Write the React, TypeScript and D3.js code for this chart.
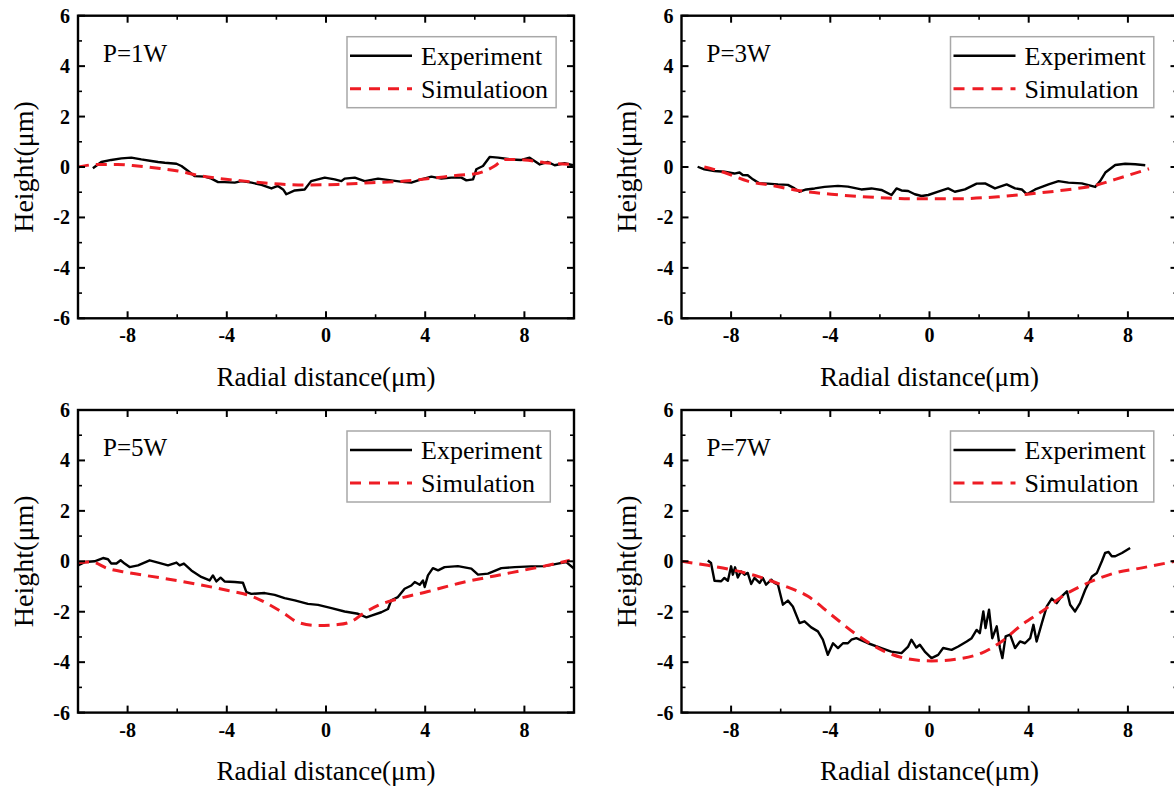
import React, { useEffect } from "react";
import * as d3 from "d3";

type Pt = [number, number];

// ---------- data ----------
const panelTitles = ["P=1W", "P=3W", "P=5W", "P=7W"];
const expLabels = ["Experiment", "Experiment", "Experiment", "Experiment"];
const simLabels = ["Simulatioon", "Simulation", "Simulation", "Simulation"];
const xTickValues = [-8, -4, 0, 4, 8];
const yTickValues = [-6, -4, -2, 0, 2, 4, 6];
const xMinorValues = [-6, -2, 2, 6];
const yMinorValues = [-5, -3, -1, 1, 3, 5];
const xDomain: Pt = [-10, 10];
const yDomain: Pt = [-6, 6];
const xTitle = "Radial distance(μm)";
const yTitle = "Height(μm)";

const p1Experiment: Pt[] = [
  [-9.4, -0.05], [-9.06, 0.2], [-8.66, 0.28], [-8.25, 0.34], [-7.85, 0.37], [-7.45, 0.3],
  [-7.04, 0.24], [-6.77, 0.2], [-6.5, 0.17], [-6.03, 0.13], [-5.83, 0.04], [-5.56, -0.16],
  [-5.3, -0.36], [-4.89, -0.38], [-4.62, -0.46], [-4.35, -0.6], [-4.09, -0.6], [-3.68, -0.62],
  [-3.41, -0.56], [-3.0, -0.62], [-2.6, -0.71], [-2.2, -0.85], [-1.94, -0.75], [-1.73, -0.89],
  [-1.6, -1.08], [-1.26, -0.93], [-0.86, -0.89], [-0.6, -0.56], [-0.05, -0.42], [0.35, -0.49],
  [0.62, -0.56], [0.75, -0.46], [1.16, -0.42], [1.56, -0.56], [2.1, -0.46], [2.63, -0.53],
  [3.17, -0.6], [3.44, -0.62], [3.84, -0.49], [4.25, -0.38], [4.65, -0.46], [5.05, -0.42],
  [5.46, -0.42], [5.66, -0.53], [5.93, -0.49], [6.06, -0.09], [6.33, 0.04], [6.6, 0.4],
  [6.94, 0.37], [7.47, 0.3], [7.88, 0.28], [8.21, 0.37], [8.62, 0.1], [8.95, 0.2],
  [9.22, 0.07], [9.62, 0.15], [9.96, 0.07],
];
const p1Simulation: Pt[] = [
  [-10, 0], [-9.2, 0.1], [-8.4, 0.1], [-7.6, 0.04], [-6.77, -0.05], [-5.97, -0.16],
  [-5.16, -0.33], [-4.35, -0.45], [-3.28, -0.56], [-2.2, -0.66], [-0.86, -0.71], [0.48, -0.69],
  [1.83, -0.62], [3.17, -0.56], [4.25, -0.45], [5.32, -0.33], [6.13, -0.25], [6.8, 0.04],
  [7.2, 0.3], [8.0, 0.28], [8.82, 0.17], [10, 0.1],
];

const p3Experiment: Pt[] = [
  [-9.35, 0.01], [-9.08, -0.09], [-8.67, -0.16], [-8.27, -0.19], [-7.87, -0.26], [-7.66, -0.22],
  [-7.53, -0.32], [-7.33, -0.33], [-7.12, -0.49], [-6.86, -0.65], [-6.52, -0.66], [-6.11, -0.69],
  [-5.71, -0.71], [-5.44, -0.85], [-5.24, -0.98], [-4.97, -0.89], [-4.63, -0.85], [-4.23, -0.79],
  [-3.69, -0.75], [-3.29, -0.78], [-2.75, -0.89], [-2.34, -0.85], [-1.94, -0.91], [-1.53, -1.11],
  [-1.33, -0.85], [-1.13, -0.93], [-0.86, -0.95], [-0.59, -1.08], [-0.32, -1.15], [-0.05, -1.11],
  [0.35, -0.98], [0.75, -0.85], [1.02, -0.98], [1.43, -0.89], [1.9, -0.66], [2.24, -0.65],
  [2.64, -0.85], [3.11, -0.69], [3.45, -0.85], [3.72, -0.89], [3.92, -1.08], [4.26, -0.89],
  [4.8, -0.69], [5.2, -0.56], [5.6, -0.62], [6.14, -0.65], [6.68, -0.79], [6.88, -0.56],
  [7.09, -0.22], [7.49, 0.08], [7.89, 0.13], [8.3, 0.11], [8.7, 0.07],
];
const p3Simulation: Pt[] = [
  [-9.08, 0.0], [-8.27, -0.22], [-7.33, -0.56], [-6.38, -0.73], [-5.3, -0.93], [-3.96, -1.08],
  [-2.48, -1.19], [-0.59, -1.26], [1.02, -1.26], [2.77, -1.18], [4.12, -1.06], [5.47, -0.91],
  [6.68, -0.73], [7.49, -0.49], [8.85, -0.07],
];

const p5Experiment: Pt[] = [
  [-10, -0.16], [-9.73, -0.03], [-9.33, 0], [-8.99, 0.13], [-8.79, 0.08], [-8.66, -0.09],
  [-8.45, -0.09], [-8.28, 0.04], [-8.12, -0.09], [-7.92, -0.23], [-7.58, -0.16], [-7.11, 0.04],
  [-6.77, -0.05], [-6.37, -0.16], [-6.03, -0.05], [-5.9, -0.16], [-5.73, -0.09], [-5.43, -0.36],
  [-5.03, -0.62], [-4.69, -0.76], [-4.56, -0.56], [-4.42, -0.8], [-4.25, -0.65], [-4.09, -0.8],
  [-3.68, -0.82], [-3.35, -0.85], [-3.21, -1.22], [-3.01, -1.29], [-2.47, -1.26], [-2.07, -1.33],
  [-1.67, -1.46], [-1.26, -1.55], [-0.73, -1.69], [-0.32, -1.73], [0.22, -1.86], [0.75, -1.99],
  [1.29, -2.08], [1.63, -2.22], [1.83, -2.15], [2.23, -2.02], [2.5, -1.89], [2.63, -1.55],
  [2.9, -1.42], [3.17, -1.09], [3.44, -0.96], [3.58, -0.82], [3.78, -0.93], [3.91, -0.76],
  [3.98, -1.02], [4.11, -0.56], [4.31, -0.27], [4.52, -0.36], [4.78, -0.23], [5.32, -0.19],
  [5.86, -0.29], [6.13, -0.53], [6.53, -0.49], [7.07, -0.27], [7.61, -0.23], [8.28, -0.2],
  [8.82, -0.19], [9.35, -0.09], [9.69, -0.03], [10, -0.29],
];
const p5Simulation: Pt[] = [
  [-10, -0.05], [-9.46, -0.03], [-8.79, -0.29], [-7.98, -0.45], [-6.64, -0.66], [-5.3, -0.89],
  [-3.95, -1.16], [-3.01, -1.38], [-2.34, -1.69], [-1.67, -2.08], [-1.13, -2.42], [-0.32, -2.55],
  [0.48, -2.51], [1.02, -2.39], [1.49, -2.08], [2.1, -1.75], [2.9, -1.49], [4.11, -1.2],
  [5.46, -0.85], [6.8, -0.58], [8.14, -0.32], [9.09, -0.13], [9.83, 0.04],
];

const p7Experiment: Pt[] = [
  [-8.94, 0.03], [-8.81, -0.07], [-8.67, -0.77], [-8.4, -0.79], [-8.27, -0.66], [-8.13, -0.77],
  [-8.0, -0.2], [-7.93, -0.53], [-7.84, -0.24], [-7.73, -0.64], [-7.6, -0.4], [-7.46, -0.53],
  [-7.33, -0.46], [-7.19, -0.9], [-7.06, -0.66], [-6.85, -0.86], [-6.72, -0.66], [-6.59, -0.93],
  [-6.38, -0.73], [-6.25, -0.86], [-6.11, -0.93], [-5.91, -1.72], [-5.71, -1.56], [-5.51, -1.79],
  [-5.24, -2.45], [-5.04, -2.38], [-4.77, -2.62], [-4.5, -2.78], [-4.3, -3.11], [-4.1, -3.71],
  [-3.89, -3.25], [-3.69, -3.44], [-3.49, -3.25], [-3.29, -3.25], [-3.15, -3.11], [-2.95, -3.05],
  [-2.48, -3.25], [-1.94, -3.44], [-1.54, -3.58], [-1.13, -3.64], [-0.86, -3.38], [-0.73, -3.11],
  [-0.53, -3.42], [-0.39, -3.31], [-0.19, -3.58], [0.08, -3.84], [0.35, -3.71], [0.55, -3.44],
  [0.89, -3.51], [1.16, -3.38], [1.5, -3.18], [1.7, -3.05], [1.9, -2.72], [2.03, -2.85],
  [2.17, -1.99], [2.26, -2.65], [2.4, -1.92], [2.53, -3.05], [2.71, -2.58], [2.84, -3.44],
  [2.94, -3.84], [3.07, -2.98], [3.25, -2.91], [3.45, -3.44], [3.65, -3.18], [3.85, -3.25],
  [4.06, -3.05], [4.19, -2.52], [4.32, -3.18], [4.53, -2.45], [4.73, -1.79], [4.93, -1.48],
  [5.13, -1.66], [5.33, -1.39], [5.54, -1.19], [5.67, -1.72], [5.87, -1.99], [6.07, -1.66],
  [6.28, -1.13], [6.55, -0.6], [6.75, -0.46], [6.95, 0.0], [7.08, 0.33], [7.22, 0.37],
  [7.35, 0.2], [7.49, 0.2], [7.76, 0.33], [8.09, 0.53],
];
const p7Simulation: Pt[] = [
  [-10, 0], [-8.94, -0.16], [-8.0, -0.33], [-6.92, -0.6], [-5.98, -0.93], [-4.9, -1.39],
  [-3.96, -2.12], [-3.02, -2.85], [-1.94, -3.51], [-0.86, -3.87], [0.08, -3.95], [1.16, -3.87],
  [2.1, -3.64], [2.91, -3.18], [3.72, -2.52], [4.53, -1.99], [5.47, -1.32], [6.55, -0.79],
  [7.49, -0.46], [8.57, -0.26], [9.9, 0.0],
];

const experimentSeries = [p1Experiment, p3Experiment, p5Experiment, p7Experiment];
const simulationSeries = [p1Simulation, p3Simulation, p5Simulation, p7Simulation];

// ---------- layout ----------
const W = 1174;
const H = 787;
const FONT = "'Liberation Serif', 'Times New Roman', Times, serif";
const PW = 496;
const PH = 302.6;
const origins: Pt[] = [
  [78, 15.7],
  [681.5, 15.7],
  [78, 410],
  [681.5, 410],
];

function textWidth(text: string, size: number, weight = "normal"): number {
  try {
    const ctx = document.createElement("canvas").getContext("2d");
    if (ctx) {
      ctx.font = `${weight} ${size}px ${FONT}`;
      return ctx.measureText(text).width;
    }
  } catch (e) {}
  return text.length * size * 0.45;
}

const fmt = (v: number) => String(v);

function Panel({ idx }: { idx: number }) {
  const [left, top] = origins[idx];
  const x = d3.scaleLinear().domain(xDomain).range([left, left + PW]);
  const y = d3.scaleLinear().domain(yDomain).range([top + PH, top]);
  const expLine = d3
    .line<Pt>()
    .x((d) => x(d[0]))
    .y((d) => y(d[1]));
  const simLine = d3
    .line<Pt>()
    .curve(d3.curveMonotoneX)
    .x((d) => x(d[0]))
    .y((d) => y(d[1]));
  const bottom = top + PH;
  const right = left + PW;
  const majorLen = 7;
  const minorLen = 4;
  const clipId = `clip-${idx}`;

  const legFont = 26;
  const textX = left + 343;
  const maxW = Math.max(
    textWidth(expLabels[idx], legFont),
    textWidth(simLabels[idx], legFont)
  );
  const boxX = left + 269;
  const boxY = top + 21;
  const boxW = textX + maxW + 8 - boxX;
  const boxH = 71;

  return (
    <g>
      <defs>
        <clipPath id={clipId}>
          <rect x={left} y={top} width={PW} height={PH} />
        </clipPath>
      </defs>
      {/* data */}
      <g clipPath={`url(#${clipId})`}>
        <path
          d={expLine(experimentSeries[idx]) || ""}
          fill="none"
          stroke="#000"
          strokeWidth={2.4}
          strokeLinejoin="round"
        />
        <path
          d={simLine(simulationSeries[idx]) || ""}
          fill="none"
          stroke="#ee1c24"
          strokeWidth={3}
          strokeDasharray="11 7"
        />
      </g>
      {/* ticks */}
      {xTickValues.map((v) => (
        <g key={`xt${v}`}>
          <line x1={x(v)} x2={x(v)} y1={bottom} y2={bottom - majorLen} stroke="#000" strokeWidth={2} />
          <line x1={x(v)} x2={x(v)} y1={top} y2={top + majorLen} stroke="#000" strokeWidth={2} />
          <text
            x={x(v)}
            y={bottom + 24}
            textAnchor="middle"
            fontFamily={FONT}
            fontWeight="bold"
            fontSize={20}
          >
            {fmt(v)}
          </text>
        </g>
      ))}
      {xMinorValues.map((v) => (
        <g key={`xm${v}`}>
          <line x1={x(v)} x2={x(v)} y1={bottom} y2={bottom - minorLen} stroke="#000" strokeWidth={1.6} />
          <line x1={x(v)} x2={x(v)} y1={top} y2={top + minorLen} stroke="#000" strokeWidth={1.6} />
        </g>
      ))}
      {yTickValues.map((v) => (
        <g key={`yt${v}`}>
          <line x1={left} x2={left + majorLen} y1={y(v)} y2={y(v)} stroke="#000" strokeWidth={2} />
          <line x1={right} x2={right - majorLen} y1={y(v)} y2={y(v)} stroke="#000" strokeWidth={2} />
          <text
            x={left - 8}
            y={y(v) + 7}
            textAnchor="end"
            fontFamily={FONT}
            fontWeight="bold"
            fontSize={20}
          >
            {fmt(v)}
          </text>
        </g>
      ))}
      {yMinorValues.map((v) => (
        <g key={`ym${v}`}>
          <line x1={left} x2={left + minorLen} y1={y(v)} y2={y(v)} stroke="#000" strokeWidth={1.6} />
          <line x1={right} x2={right - minorLen} y1={y(v)} y2={y(v)} stroke="#000" strokeWidth={1.6} />
        </g>
      ))}
      {/* frame */}
      <rect x={left} y={top} width={PW} height={PH} fill="none" stroke="#000" strokeWidth={2.4} />
      {/* title */}
      <text x={left + 25} y={top + 46} fontFamily={FONT} fontSize={25}>
        {panelTitles[idx]}
      </text>
      {/* legend */}
      <rect x={boxX} y={boxY} width={boxW} height={boxH} fill="#fff" stroke="#a8a8a8" strokeWidth={1.5} />
      <line x1={left + 272} x2={left + 334} y1={top + 40} y2={top + 40} stroke="#000" strokeWidth={2.4} />
      <line
        x1={left + 272}
        x2={left + 334}
        y1={top + 73}
        y2={top + 73}
        stroke="#ee1c24"
        strokeWidth={3}
        strokeDasharray="11 8"
      />
      <text x={textX} y={top + 49} fontFamily={FONT} fontSize={legFont}>
        {expLabels[idx]}
      </text>
      <text x={textX} y={top + 82} fontFamily={FONT} fontSize={legFont}>
        {simLabels[idx]}
      </text>
      {/* axis titles */}
      <text
        x={left + PW / 2}
        y={top + 370}
        textAnchor="middle"
        fontFamily={FONT}
        fontSize={27}
      >
        {xTitle}
      </text>
      <text
        transform={`translate(${left - 55},${top + PH / 2}) rotate(-90)`}
        textAnchor="middle"
        dy="0.35em"
        fontFamily={FONT}
        fontSize={28}
      >
        {yTitle}
      </text>
    </g>
  );
}

export default function App() {
  useEffect(() => {
    document.body.style.margin = "0";
    document.body.style.overflow = "hidden";
  }, []);
  return (
    <svg
      width={W}
      height={H}
      viewBox={`0 0 ${W} ${H}`}
      style={{ position: "absolute", left: 0, top: 0, background: "#fff" }}
    >
      <rect x={0} y={0} width={W} height={H} fill="#fff" />
      {[0, 1, 2, 3].map((i) => (
        <Panel key={i} idx={i} />
      ))}
    </svg>
  );
}
